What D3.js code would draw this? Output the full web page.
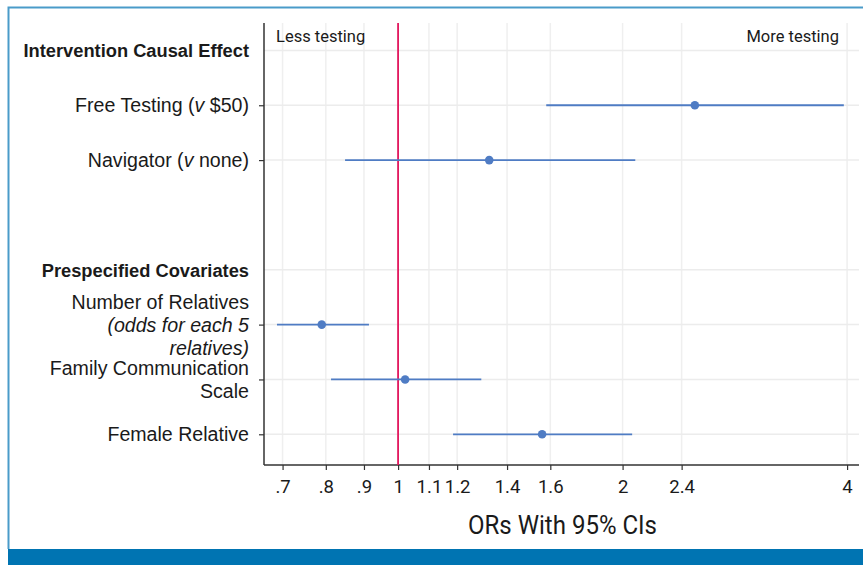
<!DOCTYPE html>
<html>
<head>
<meta charset="utf-8">
<script src="https://cdn.jsdelivr.net/npm/d3@7"></script>
<style>
  body { margin: 0; background: #fff; }
  svg { display: block; }
</style>
</head>
<body>
<svg id="forest"></svg>
<script>
const width = 863;
const height = 565;

// rows on the y axis (1 = top)
const rowPos = [1, 2, 3, 5, 6, 7, 8];
// each label is a list of lines, each line a list of [text, italic] pieces
const rowLabels = [
  [[["Intervention Causal Effect", false]]],
  [[["Free Testing (", false], ["v", true], [" $50)", false]]],
  [[["Navigator (", false], ["v", true], [" none)", false]]],
  [[["Prespecified Covariates", false]]],
  [[["Number of Relatives", false]], [["(odds for each 5", true]], [["relatives)", true]]],
  [[["Family Communication", false]], [["Scale", false]]],
  [[["Female Relative", false]]],
];
const isHeader = [true, false, false, true, false, false, false];

// estimates: row, OR, lower CI, upper CI
const estRow = [2, 3, 6, 7, 8];
const estOR = [2.5, 1.325, 0.79, 1.022, 1.56];
const estLo = [1.58, 0.849, 0.688, 0.813, 1.185];
const estHi = [3.96, 2.08, 0.914, 1.293, 2.06];

const xTicks = [0.7, 0.8, 0.9, 1, 1.1, 1.2, 1.4, 1.6, 2, 2.4, 4];
const gridRows = [1, 2, 3, 5, 6, 7, 8];
const tickRows = [2, 3, 6, 7, 8];

const margin = { top: 23, right: 4, bottom: 100, left: 264 };

const svg = d3.select("#forest").attr("width", width).attr("height", height);

// frame and bottom bar
svg.append("rect")
  .attr("x", 0).attr("y", 549).attr("width", width).attr("height", 16)
  .attr("fill", "#0074b2");
svg.append("path")
  .attr("d", `M${width},7.5 H8.5 V549`)
  .attr("fill", "none")
  .attr("stroke", "#4a9bc9")
  .attr("stroke-width", 2);
svg.append("rect")
  .attr("x", 0).attr("y", 549).attr("width", 8).attr("height", 16)
  .attr("fill", "#fff");

const x = d3.scaleLog()
  .domain([0.661, 4.15])
  .range([margin.left, width - margin.right]);

const y = d3.scaleLinear()
  .domain([0.5, 8.56])
  .range([margin.top, height - margin.bottom]);

const plotBottom = height - margin.bottom;

// gridlines
svg.append("g")
  .selectAll("line")
  .data(xTicks)
  .join("line")
  .attr("x1", (d) => x(d)).attr("x2", (d) => x(d))
  .attr("y1", margin.top).attr("y2", plotBottom)
  .attr("stroke", "#efefef")
  .attr("stroke-width", 1.5);

svg.append("g")
  .selectAll("line")
  .data(gridRows)
  .join("line")
  .attr("x1", margin.left).attr("x2", width - margin.right)
  .attr("y1", (d) => y(d)).attr("y2", (d) => y(d))
  .attr("stroke", "#ececec")
  .attr("stroke-width", 1.5);

// x axis
const xAxis = d3.axisBottom(x)
  .tickValues(xTicks)
  .tickSize(5)
  .tickSizeOuter(0)
  .tickFormat((d) => String(d).replace(/^0/, ""));

const gx = svg.append("g")
  .attr("transform", `translate(0,${plotBottom})`)
  .call(xAxis);
gx.select(".domain").attr("stroke", "#333").attr("stroke-width", 1.5)
  .attr("d", `M${margin.left},0H${width - margin.right}`);
gx.selectAll(".tick line").attr("stroke", "#333").attr("stroke-width", 1.2);
gx.selectAll(".tick text")
  .attr("dy", 0)
  .attr("y", 28)
  .style("font-family", "Roboto, sans-serif")
  .style("font-size", "18.5px")
  .style("fill", "#1a1a1a");

// y axis
const yAxis = d3.axisLeft(y)
  .tickValues(tickRows)
  .tickSize(5)
  .tickSizeOuter(0)
  .tickFormat("");
const gy = svg.append("g")
  .attr("transform", `translate(${margin.left},0)`)
  .call(yAxis);
gy.select(".domain").attr("stroke", "#333").attr("stroke-width", 1.5)
  .attr("d", `M0,${margin.top}V${plotBottom}`);
gy.selectAll(".tick line").attr("stroke", "#333").attr("stroke-width", 1.2);

// reference line at OR = 1
svg.append("line")
  .attr("x1", x(1)).attr("x2", x(1))
  .attr("y1", margin.top).attr("y2", plotBottom)
  .attr("stroke", "#e3175e")
  .attr("stroke-width", 1.8);

// row labels
const lineH = 23;
rowLabels.forEach((lines, i) => {
  const t = svg.append("text")
    .attr("x", 249)
    .attr("y", y(rowPos[i]))
    .attr("text-anchor", "end")
    .style("font-family", "'Liberation Sans', Arial, sans-serif")
    .style("font-size", isHeader[i] ? "18.3px" : "19.6px")
    .style("font-weight", isHeader[i] ? "bold" : "normal")
    .style("fill", "#1a1a1a");
  const off = -((lines.length - 1) / 2) * lineH;
  lines.forEach((pieces, j) => {
    pieces.forEach((p, k) => {
      const ts = t.append("tspan").text(p[0])
        .style("font-style", p[1] ? "italic" : "normal");
      if (k === 0) {
        ts.attr("x", 249).attr("dy", j === 0 ? off + 7 : lineH);
      }
    });
  });
});

// CI lines and points
svg.append("g")
  .selectAll("line")
  .data(estRow)
  .join("line")
  .attr("x1", (d, i) => x(estLo[i]))
  .attr("x2", (d, i) => x(estHi[i]))
  .attr("y1", (d) => y(d))
  .attr("y2", (d) => y(d))
  .attr("stroke", "#4f7cc4")
  .attr("stroke-width", 1.8);

svg.append("g")
  .selectAll("circle")
  .data(estRow)
  .join("circle")
  .attr("cx", (d, i) => x(estOR[i]))
  .attr("cy", (d) => y(d))
  .attr("r", 4.3)
  .attr("fill", "#4f7cc4");

// direction labels
svg.append("text")
  .attr("x", 276).attr("y", 42)
  .style("font-family", "Roboto, sans-serif")
  .style("font-size", "16.5px")
  .style("fill", "#1a1a1a")
  .text("Less testing");
svg.append("text")
  .attr("x", 839).attr("y", 42)
  .attr("text-anchor", "end")
  .style("font-family", "Roboto, sans-serif")
  .style("font-size", "16.5px")
  .style("fill", "#1a1a1a")
  .text("More testing");

// axis title
svg.append("text")
  .attr("x", 468).attr("y", 534)
  .attr("textLength", 189)
  .attr("lengthAdjust", "spacingAndGlyphs")
  .style("font-family", "Roboto, sans-serif")
  .style("font-size", "26px")
  .style("fill", "#1a1a1a")
  .text("ORs With 95% CIs");
</script>
</body>
</html>
